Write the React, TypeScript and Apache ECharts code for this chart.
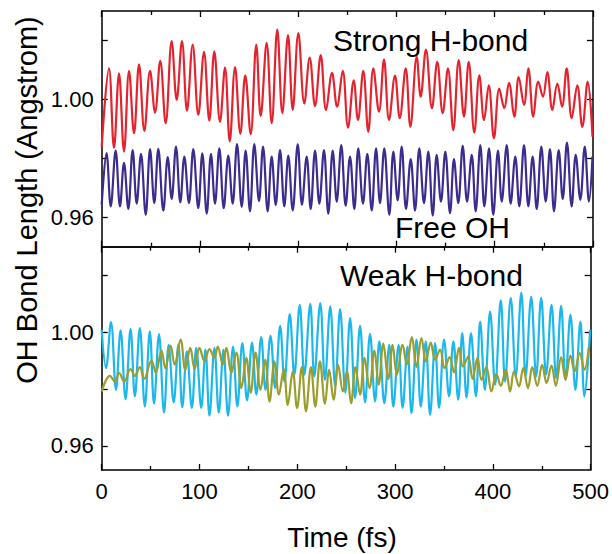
import React, { useEffect, useRef } from "react";
import * as echarts from "echarts";

// Time (fs), OH bond length (Angstrom): extrema
const strongHBond: [number, number][] = [
  [0, 0.9839], [7.4, 1.0105], [12.5, 0.9835], [17.6, 1.0088], [22.7, 0.9823], [27.8, 1.0097], [32.9, 0.9885],
  [38.0, 1.0119], [43.4, 0.9893], [49.2, 1.0097], [54.3, 0.9955], [59.6, 1.0131], [65.1, 0.9919], [71.2, 1.0198],
  [76.3, 0.9998], [81.7, 1.0198], [86.8, 0.9961], [92.6, 1.0186], [98.3, 0.9947], [104.1, 1.0161], [109.5, 0.9928],
  [114.6, 1.0163], [120.4, 0.9924], [125.5, 1.0108], [130.3, 0.9857], [135.7, 1.011], [141.1, 0.9883], [146.1, 1.0082],
  [151.6, 0.9882], [157.3, 1.0186], [161.8, 0.9943], [167.9, 1.0192], [173.0, 0.9919], [178.7, 1.0237], [183.8, 0.9953],
  [189.6, 1.0218], [194.4, 0.9964], [200.1, 1.0225], [206.2, 0.9986], [211.7, 1.0142], [217.1, 0.9977], [222.9, 1.015],
  [228.3, 0.9964], [234.4, 1.009], [239.5, 0.9975], [245.3, 1.0097], [250.7, 0.9904], [256.5, 1.0065], [260.8, 0.993],
  [266.2, 1.0097], [271.3, 0.989], [276.4, 1.0105], [282.2, 0.9958], [287.3, 1.0135], [292.4, 0.993], [298.5, 1.0081],
  [303.3, 0.9936], [309.4, 1.0105], [314.1, 0.9907], [320.6, 1.0144], [324.6, 1.0009], [330.0, 1.0169], [336.1, 0.997],
  [341.5, 1.0127], [347.0, 0.9953], [352.4, 1.0105], [357.8, 0.9896], [363.3, 1.0133], [368.7, 0.9941], [373.5, 1.0127],
  [379.2, 0.9887], [384.3, 1.0082], [389.1, 0.993], [393.9, 1.0048], [399.2, 0.9868], [404.6, 1.0037], [409.7, 0.997],
  [414.5, 1.0056], [419.9, 0.9941], [424.4, 1.0076], [429.8, 0.9981], [434.2, 1.0105], [439.2, 0.9941], [444.3, 1.006],
  [449.1, 1.0009], [453.5, 1.0093], [458.6, 0.9964], [463.7, 1.0054], [468.5, 0.9975], [473.2, 1.0105], [478.3, 0.9936],
  [484.0, 1.0048], [489.1, 0.9907], [494.6, 1.006], [499.5, 0.9873],
];

const freeOH: [number, number][] = [
  [0, 0.9642], [4.9, 0.9818], [9.2, 0.9637], [14.2, 0.9826], [18.6, 0.9637], [22.7, 0.9785], [27.1, 0.9628],
  [31.5, 0.9828], [35.6, 0.9646], [40.0, 0.9815], [44.8, 0.9608], [49.2, 0.9831], [53.5, 0.9648], [57.6, 0.9832],
  [62.7, 0.9622], [67.2, 0.9804], [71.2, 0.9662], [75.6, 0.984], [80.0, 0.965], [84.1, 0.9806], [88.8, 0.9648],
  [93.2, 0.9831], [98.3, 0.9631], [102.4, 0.9817], [106.9, 0.9612], [111.2, 0.9815], [115.3, 0.9646], [119.7, 0.9834],
  [124.2, 0.9631], [128.8, 0.9809], [133.3, 0.9646], [137.7, 0.9848], [142.5, 0.9635], [146.5, 0.9826], [150.9, 0.962],
  [155.3, 0.9848], [160.1, 0.9655], [164.2, 0.984], [168.9, 0.962], [173.0, 0.9806], [177.1, 0.9642], [181.5, 0.9828],
  [185.8, 0.9637], [189.9, 0.9809], [194.4, 0.9623], [199.5, 0.9848], [203.8, 0.9642], [208.6, 0.9806], [212.7, 0.9628],
  [217.1, 0.9826], [221.5, 0.9646], [226.2, 0.9828], [230.6, 0.9612], [235.1, 0.9826], [239.2, 0.9653], [243.8, 0.9845],
  [248.3, 0.9639], [252.7, 0.9806], [257.1, 0.9628], [261.1, 0.9834], [265.9, 0.9646], [270.3, 0.9815], [274.8, 0.9623],
  [279.2, 0.9834], [283.2, 0.9648], [287.6, 0.9834], [292.7, 0.9608], [296.8, 0.9823], [301.2, 0.9657], [305.3, 0.984],
  [309.7, 0.9628], [314.5, 0.9797], [318.9, 0.9623], [323.2, 0.9834], [328.0, 0.9648], [332.4, 0.9823], [336.9, 0.9605],
  [340.9, 0.9812], [345.3, 0.9653], [349.7, 0.9823], [354.5, 0.9614], [358.5, 0.9797], [362.9, 0.9648], [367.4, 0.9842],
  [371.8, 0.9653], [376.6, 0.9812], [380.6, 0.962], [385.3, 0.9845], [389.4, 0.9637], [394.2, 0.9834], [398.5, 0.9608],
  [403.3, 0.9826], [407.1, 0.9653], [412.2, 0.9845], [416.2, 0.9646], [420.9, 0.9806], [425.0, 0.9637], [429.8, 0.9845],
  [434.2, 0.9637], [438.6, 0.9806], [442.7, 0.9628], [447.4, 0.984], [451.9, 0.9653], [456.2, 0.9831], [460.3, 0.962],
  [465.1, 0.9828], [469.2, 0.9662], [473.5, 0.9853], [478.3, 0.9637], [482.4, 0.9812], [487.1, 0.9659], [491.6, 0.984],
  [495.9, 0.9653], [499.5, 0.9806],
];

const weakHBondA: [number, number][] = [
  [0, 1.0008], [4.4, 0.9873], [9.5, 1.0035], [14.6, 0.9797], [19.3, 1.0006], [24.4, 0.9764], [29.5, 1.0011],
  [33.9, 0.9774], [39.0, 1.0014], [44.1, 0.9738], [49.2, 1.0002], [53.5, 0.9748], [58.6, 0.9993], [63.7, 0.9717],
  [68.5, 0.9955], [73.6, 0.9753], [78.4, 0.9955], [82.4, 0.9736], [87.1, 0.9932], [92.2, 0.9733], [96.7, 0.9944],
  [101.8, 0.9733], [106.1, 0.9938], [110.2, 0.9706], [115.3, 0.9944], [119.7, 0.9717], [124.5, 0.9938], [129.2, 0.9706],
  [134.3, 0.9949], [138.7, 0.9738], [143.8, 0.9961], [148.6, 0.976], [153.7, 0.9963], [158.1, 0.978], [163.1, 0.9982],
  [167.5, 0.9797], [172.6, 0.9987], [177.4, 0.9803], [182.5, 1.0022], [186.9, 0.9826], [192.3, 1.0063], [197.0, 0.985],
  [202.5, 1.0096], [207.2, 0.985], [213.3, 1.0099], [217.4, 0.9844], [223.5, 1.0102], [228.3, 0.9832], [233.7, 1.009],
  [238.8, 0.9809], [243.8, 1.0081], [249.1, 0.9787], [254.0, 1.0049], [259.1, 0.9768], [264.2, 1.0022], [269.3, 0.9753],
  [274.4, 0.9994], [279.5, 0.9756], [283.9, 0.9967], [289.0, 0.975], [294.1, 0.9955], [298.2, 0.9738], [303.6, 0.9955],
  [307.7, 0.9733], [312.7, 0.9949], [316.8, 0.9715], [321.9, 0.9973], [326.3, 0.9738], [331.4, 0.9967], [335.8, 0.9709],
  [340.9, 0.9961], [345.0, 0.9733], [350.1, 0.9973], [355.2, 0.9774], [359.6, 0.9967], [364.6, 0.9762], [368.7, 0.9996],
  [373.1, 0.9769], [377.6, 0.9996], [382.7, 0.9774], [387.0, 1.0037], [391.8, 0.9797], [397.2, 1.0072], [402.3, 0.9815],
  [408.1, 1.0111], [412.5, 0.9826], [418.3, 1.012], [423.4, 0.9844], [429.1, 1.0139], [433.5, 0.9844], [439.2, 1.0125],
  [444.3, 0.9844], [449.4, 1.012], [454.5, 0.985], [460.0, 1.0096], [464.7, 0.9838], [469.8, 1.0092], [474.3, 0.9832],
  [479.3, 1.0061], [484.4, 0.9797], [489.5, 1.0037], [493.6, 0.9774], [499.5, 1.0008],
];

const weakHBondB: [number, number][] = [
  [0, 0.9791], [8.4, 0.9846], [13.5, 0.9826], [17.9, 0.9856], [23.0, 0.9826], [29.5, 0.987], [33.9, 0.9846],
  [39.0, 0.9877], [43.4, 0.9835], [50.9, 0.99], [55.3, 0.9858], [61.1, 0.9935], [65.1, 0.9873], [70.5, 0.9952],
  [74.6, 0.9885], [80.7, 0.9973], [85.5, 0.9867], [90.6, 0.9944], [95.0, 0.987], [100.0, 0.9944], [105.1, 0.9897],
  [110.2, 0.994], [115.3, 0.9909], [118.7, 0.9949], [123.8, 0.9885], [127.5, 0.9944], [132.6, 0.9856], [137.7, 0.9928],
  [142.8, 0.9803], [147.9, 0.9909], [152.3, 0.9786], [157.3, 0.9928], [162.4, 0.9797], [167.2, 0.9903], [171.6, 0.9756],
  [176.7, 0.9897], [181.2, 0.978], [186.2, 0.987], [190.3, 0.9744], [195.4, 0.9862], [199.8, 0.9733], [204.6, 0.9877],
  [208.9, 0.9721], [214.0, 0.9877], [218.4, 0.9738], [223.2, 0.9897], [228.3, 0.9748], [232.6, 0.9867], [237.1, 0.9762],
  [241.8, 0.9885], [246.6, 0.9791], [250.7, 0.9862], [255.0, 0.975], [259.5, 0.9877], [264.2, 0.978], [268.7, 0.9909],
  [273.8, 0.9803], [278.9, 0.9935], [283.2, 0.9815], [288.0, 0.9959], [293.1, 0.9835], [297.5, 0.9955], [301.8, 0.985],
  [307.7, 0.9955], [312.0, 0.9885], [317.1, 0.9982], [321.9, 0.9877], [327.0, 0.9979], [331.4, 0.9897], [336.5, 0.9963],
  [340.9, 0.9903], [346.0, 0.9938], [350.7, 0.9873], [355.8, 0.9912], [360.3, 0.9858], [365.4, 0.9944], [369.4, 0.9879],
  [374.8, 0.9914], [379.2, 0.9835], [384.3, 0.9909], [388.4, 0.9832], [393.4, 0.9877], [398.5, 0.9791], [403.6, 0.9853],
  [408.1, 0.9811], [413.2, 0.9867], [417.6, 0.9791], [421.6, 0.9862], [426.7, 0.9809], [431.1, 0.9873], [435.9, 0.9803],
  [440.3, 0.9877], [445.4, 0.9811], [450.4, 0.9885], [454.9, 0.9821], [460.0, 0.9882], [464.4, 0.9811], [469.8, 0.9912],
  [474.3, 0.9832], [479.3, 0.9917], [483.7, 0.9862], [488.8, 0.9926], [493.6, 0.9867], [498.0, 0.9944],
];

const xTickStep = 100;
const yTickValues = [0.96, 0.98, 1.0, 1.02];
const yLabelValues = [0.96, 1.0];
const topRange = [0.95, 1.03];
const bottomRange = [0.9515, 1.03];

const FONT = "'Liberation Sans', Arial, Helvetica, sans-serif";
const BLACK = "#000";

function xAxisDef(gridIndex: number, position: string, showLabels: boolean) {
  return {
    type: "value",
    gridIndex,
    position,
    min: 0,
    max: 500,
    interval: xTickStep,
    axisLine: { show: true, onZero: false, lineStyle: { color: BLACK, width: 1.5 } },
    axisTick: { show: true, inside: true, length: 6, lineStyle: { color: BLACK, width: 1.3 } },
    minorTick: { show: true, splitNumber: 2, length: 4, lineStyle: { color: BLACK, width: 1.3 } },
    axisLabel: { show: showLabels, color: BLACK, fontSize: 22, fontFamily: FONT, margin: 10 },
    splitLine: { show: false },
    minorSplitLine: { show: false },
  };
}

function yAxisDef(gridIndex: number, position: string, range: number[], showLabels: boolean) {
  return {
    type: "value",
    gridIndex,
    position,
    min: range[0],
    max: range[1],
    axisLine: { show: true, onZero: false, lineStyle: { color: BLACK, width: 1.5 } },
    axisTick: {
      show: true,
      inside: true,
      length: 6,
      customValues: yTickValues,
      lineStyle: { color: BLACK, width: 1.3 },
    },
    axisLabel: {
      show: showLabels,
      customValues: yLabelValues,
      formatter: (v: number) => v.toFixed(2),
      color: BLACK,
      fontSize: 22,
      fontFamily: FONT,
      margin: 8,
    },
    splitLine: { show: false },
  };
}

function lineSeries(name: string, data: [number, number][], idx: number, color: string) {
  return {
    name,
    type: "line",
    xAxisIndex: idx,
    yAxisIndex: idx,
    data,
    showSymbol: false,
    smooth: 0.38,
    lineStyle: { color, width: 2.2 },
    itemStyle: { color },
    silent: true,
  };
}

export default function App() {
  const ref = useRef<HTMLDivElement>(null);

  useEffect(() => {
    if (!ref.current) return;
    const chart = echarts.init(ref.current, null, { renderer: "svg" });
    chart.setOption({
      animation: false,
      backgroundColor: "#fff",
      grid: [
        { left: 101.7, top: 11, width: 491.3, height: 235.7, show: false },
        { left: 101.7, top: 246.7, width: 491.3, height: 223.3, show: false },
      ],
      xAxis: [
        xAxisDef(0, "bottom", false),
        xAxisDef(0, "top", false),
        xAxisDef(1, "bottom", true),
        xAxisDef(1, "top", false),
      ],
      yAxis: [
        yAxisDef(0, "left", topRange, true),
        yAxisDef(0, "right", topRange, false),
        yAxisDef(1, "left", bottomRange, true),
        yAxisDef(1, "right", bottomRange, false),
      ],
      series: [
        lineSeries("Strong H-bond", strongHBond, 0, "#e3232e"),
        lineSeries("Free OH", freeOH, 0, "#3d2b8e"),
        lineSeries("Weak H-bond A", weakHBondA, 2, "#1cb8ec"),
        lineSeries("Weak H-bond B", weakHBondB, 2, "#9b9d2d"),
      ],
      graphic: [
        {
          type: "text",
          x: 333,
          y: 40,
          style: { text: "Strong H-bond", fontSize: 30, fontFamily: FONT, fill: BLACK, textVerticalAlign: "middle" },
        },
        {
          type: "text",
          x: 395,
          y: 227,
          style: { text: "Free OH", fontSize: 30, fontFamily: FONT, fill: BLACK, textVerticalAlign: "middle" },
        },
        {
          type: "text",
          x: 340,
          y: 275,
          style: { text: "Weak H-bond", fontSize: 30, fontFamily: FONT, fill: BLACK, textVerticalAlign: "middle" },
        },
        {
          type: "text",
          x: 342,
          y: 537,
          style: {
            text: "Time (fs)",
            fontSize: 28,
            fontFamily: FONT,
            fill: BLACK,
            textAlign: "center",
            textVerticalAlign: "middle",
          },
        },
        {
          type: "text",
          x: 27,
          y: 200,
          rotation: Math.PI / 2,
          style: {
            text: "OH Bond Length (Angstrom)",
            fontSize: 29,
            fontFamily: FONT,
            fill: BLACK,
            textAlign: "center",
            textVerticalAlign: "middle",
          },
        },
      ],
    });
    return () => chart.dispose();
  }, []);

  return (
    <div
      ref={ref}
      style={{ position: "fixed", left: 0, top: 0, width: 612, height: 554, background: "#fff" }}
    />
  );
}
